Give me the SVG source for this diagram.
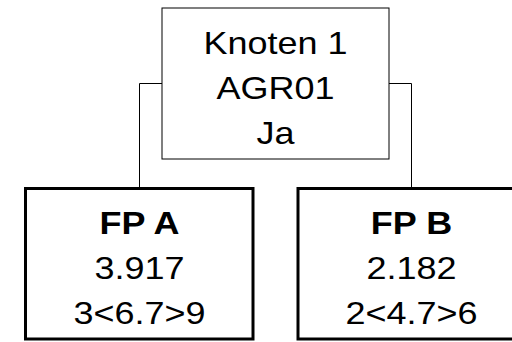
<svg xmlns="http://www.w3.org/2000/svg" width="512" height="342" viewBox="0 0 512 342">
<style>
text { font-family: "Liberation Sans", Arial, sans-serif; font-size: 32px; fill: #000; text-anchor: middle; }
.b { font-weight: bold; }
.top { fill: #fff; stroke: #000; stroke-width: 1; }
.leaf { fill: #fff; stroke: #000; stroke-width: 3; }
.conn { fill: none; stroke: #000; stroke-width: 1; }
</style>
<rect width="512" height="342" fill="#fff"/>
<g id="connectors">
<path class="conn" d="M162,83.5 H139.5 V188"/>
<path class="conn" d="M389,83.5 H411.5 V188"/>
</g>
<g id="node1">
<rect class="top" x="162" y="8" width="227" height="151"/>
<text transform="translate(275.5,54) scale(1.125,1)">Knoten 1</text>
<text transform="translate(275.5,99) scale(1.125,1)">AGR01</text>
<text transform="translate(275.5,144) scale(1.125,1)">Ja</text>
</g>
<g id="fpA">
<rect class="leaf" x="25.5" y="188.5" width="227.5" height="150.5"/>
<text class="b" transform="translate(139.5,234) scale(1.125,1)">FP A</text>
<text transform="translate(139.5,279) scale(1.125,1)">3.917</text>
<text transform="translate(139.5,324) scale(1.125,1)">3&lt;6.7&gt;9</text>
</g>
<g id="fpB">
<rect class="leaf" x="298" y="188.5" width="227.5" height="150.5"/>
<text class="b" transform="translate(411.5,234) scale(1.125,1)">FP B</text>
<text transform="translate(411.5,279) scale(1.125,1)">2.182</text>
<text transform="translate(411.5,324) scale(1.125,1)">2&lt;4.7&gt;6</text>
</g>
</svg>
